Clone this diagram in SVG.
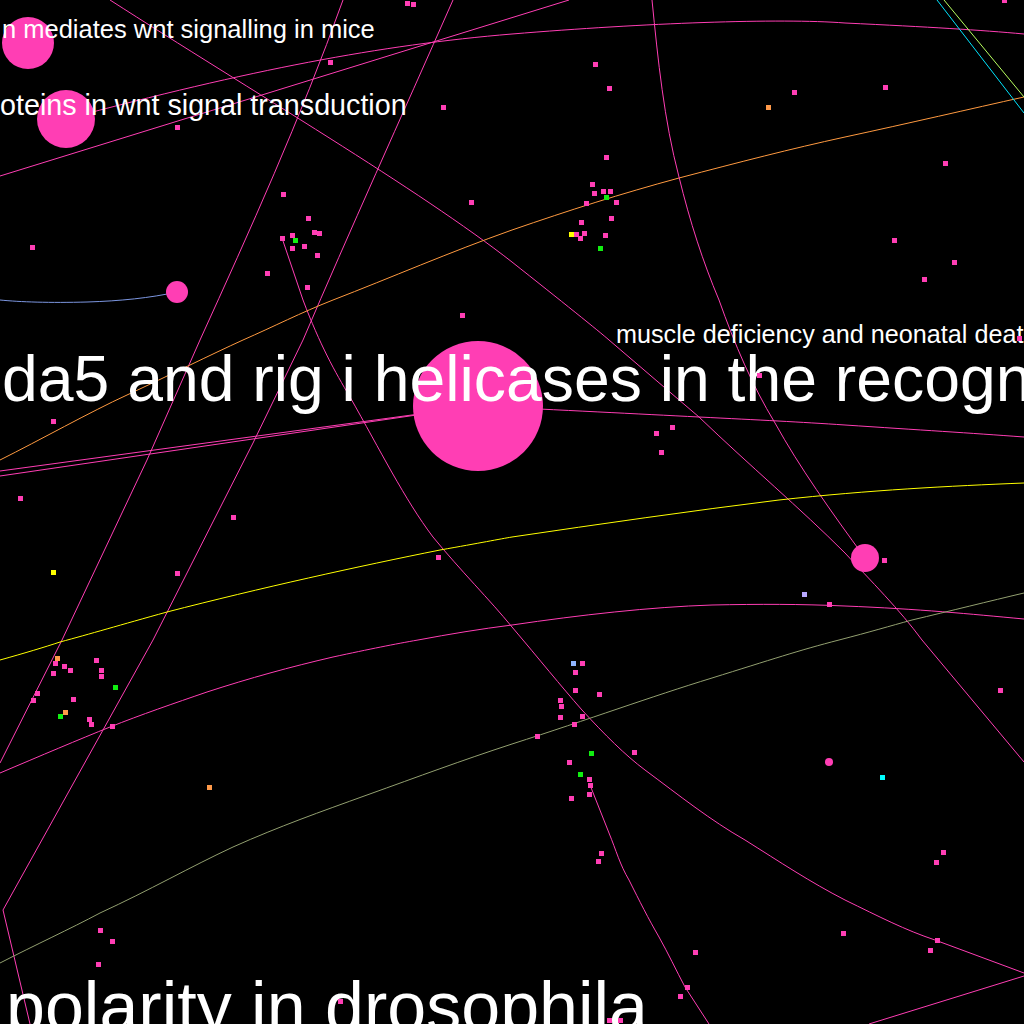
<svg xmlns="http://www.w3.org/2000/svg" xmlns:xlink="http://www.w3.org/1999/xlink" width="1024" height="1024" viewBox="0 0 1024 1024">
<style>
.bg{fill:#000}
.e{fill:none;stroke-width:1}
.ep{stroke:#ff3eb4}
.eo{stroke:#ff9a40}
.ey{stroke:#ffff00}
.eb{stroke:#7c96e0}
.eg{stroke:#93a070}
.ec{stroke:#00e5ff}
.el{stroke:#b8ff60}
.p{fill:#ff3eb4}
.g{fill:#11ee11}
.y{fill:#ffff00}
.o{fill:#ff9a4a}
.lb{fill:#8fb4ff}
.lv{fill:#b8a8ff}
.c{fill:#00ffff}
.t{fill:#fff;font-family:"Liberation Sans",Arial,sans-serif}
</style>
<defs>
<rect id="d" x="-2.5" y="-2.5" width="5" height="5" shape-rendering="crispEdges"/>
</defs>
<rect class="bg" x="0" y="0" width="1024" height="1024"/>
<g id="connectors">
<path class="e ep" d="M0,176 L569,0"/>
<path class="e ep" d="M66,119 C250,70 380,45 512,34 C645,23 780,18 845,23 C930,27 980,30 1024,34"/>
<path class="e ep" d="M110,0 C250,90 420,190 512,262 C560,300 600,332 609,340 L699,417 C750,466 800,508 845,553 C870,580 900,610 922,640 L1024,762"/>
<path class="e ep" d="M282,238 L303,300 C320,345 335,372 350,397 C380,450 405,500 433,537 C460,570 490,600 512,627 C540,660 560,685 582,710 C605,735 625,755 645,770 C680,796 710,820 745,840 C780,862 810,882 845,900 C880,917 905,930 935,940 L1024,973"/>
<path class="e ep" d="M343,0 C300,120 250,230 200,340 L147,460 L62,640 L0,763"/>
<path class="e ep" d="M453,0 C400,120 350,230 303,340 L253,443 L153,640 L103,730 L3,910 L30,1024"/>
<path class="e eo" d="M0,460 C40,440 90,412 127,395 C170,375 210,355 243,340 C275,326 300,313 333,300 C390,278 450,252 512,230 C570,210 620,194 679,178 C740,162 790,149 845,137 C910,123 970,109 1024,97"/>
<path class="e eb" d="M0,300 C20,302 50,303 87,302 C120,301 150,298 177,292"/>
<path class="e ec" d="M937,0 L1024,113"/>
<path class="e el" d="M944,0 L1024,97"/>
<path class="e ep" d="M652,0 C658,60 664,120 679,177 C690,222 703,262 719,300 C735,345 752,385 775,423 C800,468 830,510 865,558"/>
<path class="e ep" d="M478,406 L0,471"/>
<path class="e ep" d="M478,406 L0,476"/>
<path class="e ep" d="M478,406 C560,410 640,414 699,417 C760,420 800,422 845,425 C920,430 970,433 1024,437"/>
<path class="e ey" d="M0,660 C25,653 45,647 60,642 C90,634 120,625 167,612 C260,588 360,566 440,550 C480,543 500,539 512,537 C600,524 690,511 779,500 C870,490 950,486 1024,483"/>
<path class="e ep" d="M0,773 C40,756 80,739 110,727 C140,715 175,703 207,692 C250,678 290,667 333,657 C370,649 395,644 418,640 C450,634 480,629 512,625 C580,615 650,607 712,605 C760,604 800,604 845,606 C920,609 970,614 1024,619"/>
<path class="e eg" d="M0,963 C35,945 70,929 100,913 C150,890 190,867 233,847 C280,826 320,812 367,795 C420,776 460,761 512,744 C590,719 650,697 712,678 C770,660 800,650 839,640 C870,632 890,626 912,620 C950,611 990,601 1024,593"/>
<path class="e ep" d="M590,785 L609,833 C616,850 620,865 629,880 C640,902 648,918 659,937 C668,953 676,970 685,987 L709,1024"/>
<path class="e ep" d="M869,1024 L1024,976"/>
</g>
<g id="big-nodes">
<g id="n-wnt-mice"><circle class="p" cx="28" cy="43" r="26"/><text class="t" x="2" y="38" font-size="25.5">n mediates wnt signalling in mice</text></g>
<g id="n-wnt-trans"><circle class="p" cx="66" cy="119" r="29"/><text class="t" x="0" y="115" font-size="28.7">oteins in wnt signal transduction</text></g>
<g id="n-small1"><circle class="p" cx="177" cy="292" r="11"/></g>
<g id="n-mda5"><circle class="p" cx="478" cy="406" r="65"/><text class="t" x="2" y="401" font-size="64.3">da5 and rig i helicases in the recogn</text></g>
<g id="n-muscle"><circle class="p" cx="865" cy="558" r="14"/><text class="t" x="616" y="343" font-size="25.2">muscle deficiency and neonatal deat</text></g>
<g id="n-polarity"><text class="t" x="6" y="1031" font-size="70">polarity in drosophila</text></g>
<g id="n-mid"><circle class="p" cx="829" cy="762" r="4"/></g>
</g>
<g id="dots">
<use href="#d" class="p" x="407" y="3"/><use href="#d" class="p" x="413" y="4"/>
<use href="#d" class="p" x="330" y="62"/><use href="#d" class="p" x="443" y="107"/>
<use href="#d" class="p" x="177" y="127"/><use href="#d" class="p" x="32" y="247"/>
<use href="#d" class="p" x="283" y="194"/><use href="#d" class="p" x="308" y="218"/>
<use href="#d" class="p" x="314" y="232"/><use href="#d" class="p" x="319" y="233"/>
<use href="#d" class="p" x="292" y="235"/><use href="#d" class="g" x="295" y="240"/>
<use href="#d" class="p" x="282" y="238"/><use href="#d" class="p" x="304" y="246"/>
<use href="#d" class="p" x="292" y="248"/><use href="#d" class="p" x="317" y="255"/>
<use href="#d" class="p" x="267" y="273"/><use href="#d" class="p" x="307" y="287"/>
<use href="#d" class="p" x="471" y="202"/><use href="#d" class="p" x="462" y="315"/>
<use href="#d" class="p" x="1004" y="0"/>
<use href="#d" class="p" x="595" y="64"/><use href="#d" class="p" x="609" y="88"/>
<use href="#d" class="p" x="794" y="92"/><use href="#d" class="o" x="768" y="107"/>
<use href="#d" class="p" x="885" y="87"/><use href="#d" class="p" x="606" y="157"/>
<use href="#d" class="p" x="945" y="163"/><use href="#d" class="p" x="592" y="184"/>
<use href="#d" class="p" x="594" y="193"/><use href="#d" class="p" x="603" y="191"/>
<use href="#d" class="p" x="610" y="191"/><use href="#d" class="g" x="606" y="197"/>
<use href="#d" class="p" x="616" y="202"/><use href="#d" class="p" x="586" y="203"/>
<use href="#d" class="p" x="581" y="222"/><use href="#d" class="p" x="611" y="218"/>
<use href="#d" class="y" x="571" y="234"/><use href="#d" class="p" x="576" y="234"/>
<use href="#d" class="p" x="584" y="233"/><use href="#d" class="p" x="580" y="238"/>
<use href="#d" class="p" x="605" y="235"/><use href="#d" class="g" x="600" y="248"/>
<use href="#d" class="p" x="894" y="240"/><use href="#d" class="p" x="954" y="262"/>
<use href="#d" class="p" x="924" y="279"/>
<use href="#d" class="p" x="53" y="421"/><use href="#d" class="p" x="20" y="498"/>
<use href="#d" class="p" x="233" y="517"/><use href="#d" class="y" x="53" y="572"/>
<use href="#d" class="p" x="177" y="573"/><use href="#d" class="p" x="438" y="557"/>
<use href="#d" class="p" x="1019" y="338"/><use href="#d" class="p" x="759" y="375"/>
<use href="#d" class="p" x="672" y="427"/><use href="#d" class="p" x="656" y="433"/>
<use href="#d" class="p" x="661" y="452"/><use href="#d" class="p" x="884" y="560"/>
<use href="#d" class="lv" x="804" y="594"/><use href="#d" class="p" x="829" y="604"/>
<use href="#d" class="o" x="57" y="658"/><use href="#d" class="p" x="55" y="663"/>
<use href="#d" class="p" x="64" y="666"/><use href="#d" class="p" x="70" y="670"/>
<use href="#d" class="p" x="53" y="673"/><use href="#d" class="p" x="96" y="660"/>
<use href="#d" class="p" x="101" y="670"/><use href="#d" class="p" x="101" y="676"/>
<use href="#d" class="g" x="115" y="687"/><use href="#d" class="p" x="37" y="693"/>
<use href="#d" class="p" x="33" y="700"/><use href="#d" class="p" x="73" y="699"/>
<use href="#d" class="o" x="65" y="712"/><use href="#d" class="g" x="60" y="716"/>
<use href="#d" class="p" x="89" y="719"/><use href="#d" class="p" x="91" y="724"/>
<use href="#d" class="p" x="112" y="726"/><use href="#d" class="o" x="209" y="787"/>
<use href="#d" class="p" x="100" y="930"/><use href="#d" class="p" x="112" y="941"/>
<use href="#d" class="p" x="98" y="964"/><use href="#d" class="p" x="340" y="1001"/>
<use href="#d" class="lb" x="573" y="663"/><use href="#d" class="p" x="582" y="663"/>
<use href="#d" class="p" x="575" y="672"/><use href="#d" class="p" x="575" y="690"/>
<use href="#d" class="p" x="599" y="694"/><use href="#d" class="p" x="560" y="700"/>
<use href="#d" class="p" x="561" y="706"/><use href="#d" class="p" x="560" y="717"/>
<use href="#d" class="p" x="582" y="716"/><use href="#d" class="p" x="574" y="724"/>
<use href="#d" class="p" x="537" y="736"/><use href="#d" class="g" x="591" y="753"/>
<use href="#d" class="p" x="634" y="752"/><use href="#d" class="p" x="569" y="762"/>
<use href="#d" class="g" x="580" y="774"/><use href="#d" class="p" x="589" y="779"/>
<use href="#d" class="p" x="590" y="785"/><use href="#d" class="p" x="589" y="794"/>
<use href="#d" class="p" x="571" y="798"/><use href="#d" class="c" x="882" y="777"/>
<use href="#d" class="p" x="1000" y="690"/><use href="#d" class="p" x="943" y="852"/>
<use href="#d" class="p" x="936" y="862"/><use href="#d" class="p" x="601" y="853"/>
<use href="#d" class="p" x="598" y="861"/><use href="#d" class="p" x="843" y="933"/>
<use href="#d" class="p" x="937" y="940"/><use href="#d" class="p" x="930" y="950"/>
<use href="#d" class="p" x="695" y="952"/><use href="#d" class="p" x="687" y="987"/>
<use href="#d" class="p" x="680" y="996"/><use href="#d" class="p" x="609" y="1020"/>
<use href="#d" class="p" x="620" y="1020"/>
</g>
</svg>
